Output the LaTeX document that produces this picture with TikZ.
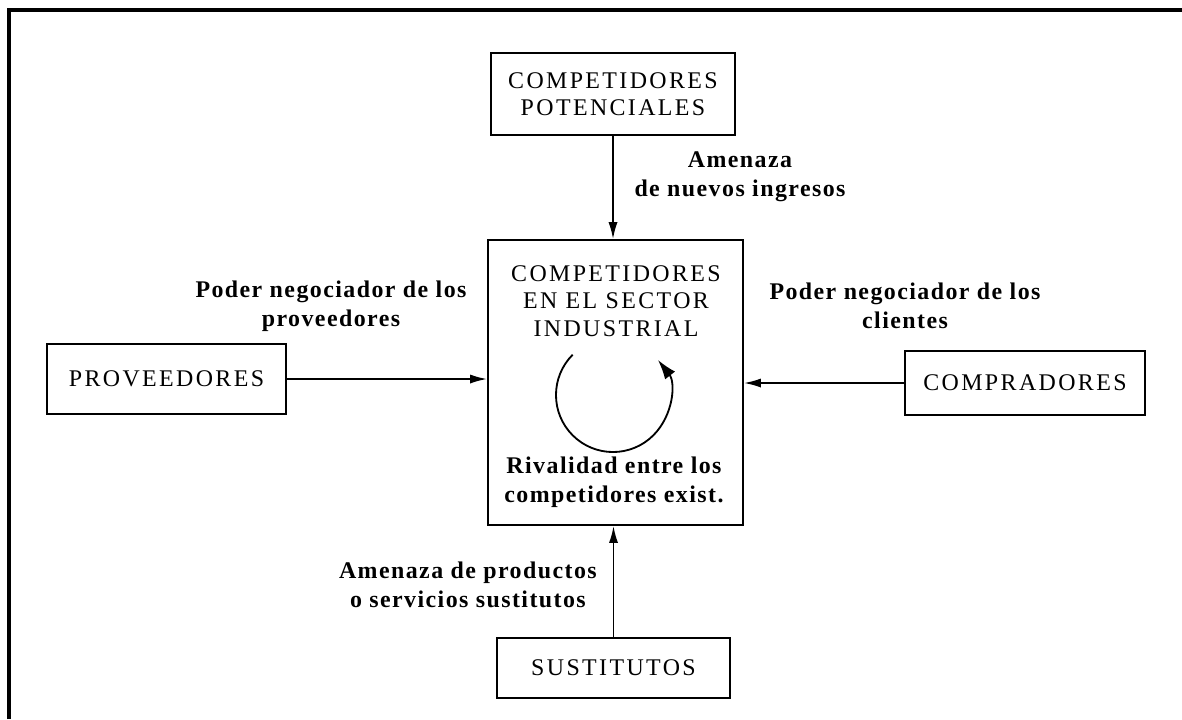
\documentclass[tikz,border=0pt]{standalone}
\usepackage{fontspec}
\setmainfont{Liberation Serif}
\newfontfamily\capsfont[LetterSpace=10]{Liberation Serif}
\newfontfamily\labelfont[LetterSpace=6]{Liberation Serif}
\usetikzlibrary{arrows.meta}

\begin{document}
\begin{tikzpicture}[
            x=0.025cm, y=-0.025cm,
            forcebox/.style={rectangle, draw=black, line width=1.3pt, inner sep=0pt, align=center, font=\capsfont\fontsize{17}{19.5}\selectfont},
            forcelabel/.style={align=center, inner sep=0pt, font=\labelfont\bfseries\fontsize{17}{20.5}\selectfont},
            forcearrow/.style={line width=1.2pt, -{Latex[length=12pt,width=6.5pt]}}
          ]
          \useasboundingbox (0,0) rectangle (1182,719);

          %Frame
          \draw[line width=2.2pt] (9,719) -- (9,10) -- (1182,10);

          %Nodes
          \node[forcebox, minimum width=6.1cm, minimum height=2.05cm] at (613,94) (pot) {COMPETIDORES\\POTENCIALES};
          \node[forcebox, minimum width=6.38cm, minimum height=7.13cm] at (615.5,382.5) (sector) {};
          \node[forcebox, minimum width=5.98cm, minimum height=1.75cm] at (166.5,379) (prov) {PROVEEDORES};
          \node[forcebox, minimum width=6cm, minimum height=1.6cm] at (1025,383) (comp) {COMPRADORES};
          \node[forcebox, minimum width=5.83cm, minimum height=1.5cm] at (613.5,668) (sust) {SUSTITUTOS};

          %Inside the sector box
          \node[align=center, inner sep=0pt, font=\capsfont\fontsize{17}{19.5}\selectfont] at (616,301) (sectortxt) {COMPETIDORES\\EN EL SECTOR\\INDUSTRIAL};
          \node[forcelabel] at (614,482) (rival) {Rivalidad entre los\\competidores exist.};
          \coordinate (rot) at (613,395);
          \draw[line width=1.3pt, -{Latex[length=14pt,width=9pt]}] (rot) ++(135:1.425cm) arc[start angle=135, end angle=398, radius=1.425cm];

          %Lines
          \draw[forcearrow] (pot.south) -- (pot.south |- sector.north);
          \draw[forcearrow] (prov.east) -- (prov.east -| sector.west);
          \draw[forcearrow] (comp.west) -- (comp.west -| sector.east);
          \draw[forcearrow] (sust.north) -- (sust.north |- sector.south);

          %Labels
          \node[forcelabel] at (740,177) (newin) {Amenaza\\de nuevos ingresos};
          \node[forcelabel] at (331,306) (provlbl) {Poder negociador de los\\proveedores};
          \node[forcelabel] at (905,306) (complbl) {Poder negociador de los\\clientes};
          \node[forcelabel, anchor=east] at (597,585) (sustlbl) {Amenaza de productos\\o servicios sustitutos};

        \end{tikzpicture}
\end{document}
